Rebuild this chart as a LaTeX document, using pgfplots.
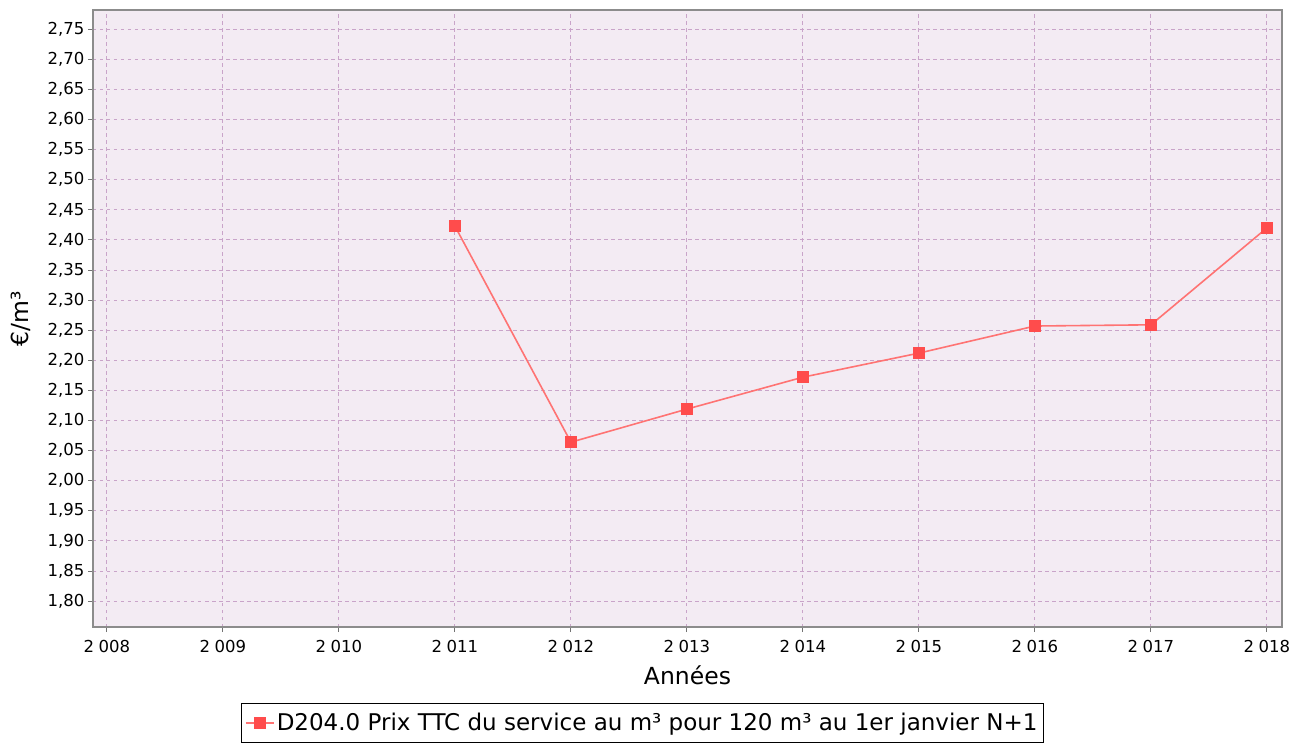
\documentclass[border=0pt]{standalone}
\usepackage{fontspec}
\setmainfont{DejaVu Sans}
\usepackage{pgfplots}
\pgfplotsset{compat=1.18}
\definecolor{bgpink}{HTML}{F3EBF3}
\definecolor{gridpink}{HTML}{C9A4C9}
\definecolor{serieline}{HTML}{FF7373}
\definecolor{seriemark}{HTML}{FF4C4C}
\begin{document}
\begin{tikzpicture}
\begin{axis}[
  width=1189pt, height=617pt, scale only axis,
  xmin=2007.88, xmax=2018.13,
  ymin=1.757, ymax=2.782,
  xtick={2008,2009,...,2018},
  ytick={1.80,1.85,...,2.76},
  axis background/.style={fill=bgpink},
  axis line style={draw=black!45, line width=1.2pt},
  grid=major,
  major grid style={gridpink, line width=0.9pt, dash pattern=on 3.5pt off 3.5pt},
  tick align=outside, tick pos=left,
  major tick length=5pt,
  tick style={black!55, line width=1pt},
  tick label style={font=\fontsize{16.5}{19}\selectfont},
  /pgf/number format/assume math mode=true,
  xticklabel style={yshift=-5pt, /pgf/number format/.cd, 1000 sep={\;}, min exponent for 1000 sep=3},
  yticklabel style={/pgf/number format/.cd, use comma, fixed, fixed zerofill, precision=2},
  xlabel={Années},
  ylabel={€/m³},
  label style={font=\fontsize{23.5}{27}\selectfont},
  xlabel style={yshift=-6pt},
  ylabel style={yshift=10pt},
  legend style={at={(0.462,-0.123)}, anchor=north, draw=black, line width=1.2pt,
    font=\fontsize{23}{27}\selectfont, inner xsep=4pt, inner ysep=8pt},
  legend cell align=left,
  legend image code/.code={\draw[mark repeat=2,mark phase=2,#1,mark size=5pt]
    plot coordinates {(0pt,0pt) (14pt,0pt) (28pt,0pt)};},
]
\addplot[serieline, line width=1.6pt, mark=square*, mark size=5.5pt,
  mark options={fill=seriemark, draw=seriemark, solid}] coordinates {
  (2011,2.423) (2012,2.064) (2013,2.119) (2014,2.172)
  (2015,2.212) (2016,2.257) (2017,2.259) (2018,2.420)
};
\legend{D204.0 Prix TTC du service au m³ pour 120 m³ au 1er janvier N+1}
\end{axis}
\path[use as bounding box] ([xshift=-93pt,yshift=-112pt]current axis.south west)
  rectangle ([xshift=16pt,yshift=10pt]current axis.north east);
\end{tikzpicture}
\end{document}
